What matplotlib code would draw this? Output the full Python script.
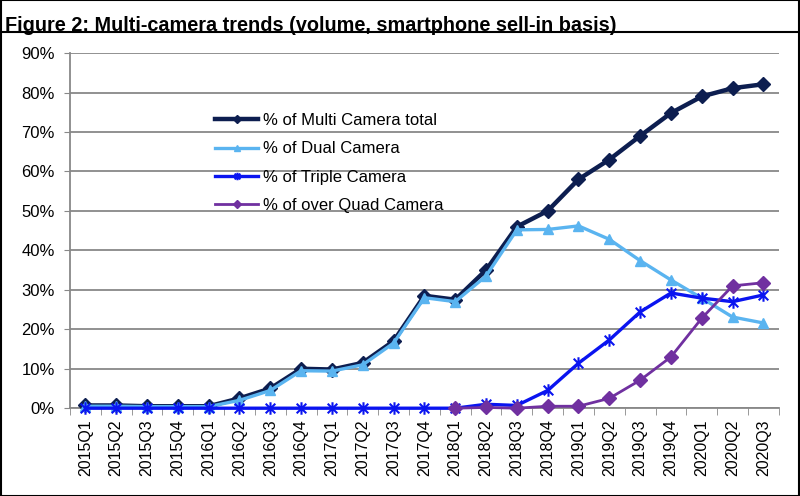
import numpy as np
import matplotlib
matplotlib.use("Agg")
import matplotlib.pyplot as plt
from matplotlib.path import Path
from matplotlib.patches import Rectangle
from matplotlib.lines import Line2D

plt.rcParams['font.family'] = ['Liberation Sans', 'DejaVu Sans']

quarters = ["2015Q1", "2015Q2", "2015Q3", "2015Q4", "2016Q1", "2016Q2", "2016Q3",
            "2016Q4", "2017Q1", "2017Q2", "2017Q3", "2017Q4", "2018Q1", "2018Q2",
            "2018Q3", "2018Q4", "2019Q1", "2019Q2", "2019Q3", "2019Q4", "2020Q1",
            "2020Q2", "2020Q3"]

multi = [0.7, 0.7, 0.5, 0.5, 0.5, 2.5, 5.0, 10.0, 9.8, 11.5, 17.0, 28.5, 27.5,
         35.0, 46.0, 50.0, 58.0, 63.0, 69.0, 74.8, 79.0, 81.1, 82.1]
dual = [0.5, 0.5, 0.4, 0.4, 0.4, 2.0, 4.5, 9.5, 9.4, 11.0, 16.5, 28.0, 27.0,
        33.5, 45.2, 45.3, 46.2, 42.8, 37.4, 32.5, 27.9, 23.1, 21.6]
triple = [0, 0, 0, 0, 0, 0, 0, 0, 0, 0, 0, 0, 0,
          1.0, 0.7, 4.5, 11.4, 17.3, 24.4, 29.2, 27.9, 27.0, 28.7]
quad = [np.nan] * 12 + [0, 0.2, 0, 0.5, 0.5, 2.5, 7.1, 13.0, 22.8, 31.0, 31.8]

labels = ["% of Multi Camera total", "% of Dual Camera",
          "% of Triple Camera", "% of over Quad Camera"]

# excel style star marker: x with a vertical bar
star = Path([(-1, -1), (1, 1), (-1, 1), (1, -1), (0, -1.3), (0, 1.3)],
            [Path.MOVETO, Path.LINETO, Path.MOVETO, Path.LINETO, Path.MOVETO, Path.LINETO])

fig = plt.figure(figsize=(8, 4.96), dpi=100)
ax = fig.add_axes([0.0875, 0.177, 0.886, 0.716])

x = np.arange(len(quarters))
kw = dict(clip_on=False, zorder=3)
ax.plot(x, multi, color="#0D1E50", lw=3.2, marker="D", ms=7, label=labels[0], **kw)
ax.plot(x, dual, color="#5AB4F0", lw=2.4, marker="^", ms=7, label=labels[1], **kw)
ax.plot(x, triple, color="#0A14F0", lw=2.4, marker=star, ms=9, mew=1.5, label=labels[2], **kw)
ax.plot(x, quad, color="#7030A0", lw=2.0, marker="D", ms=7, label=labels[3], **kw)

ax.set_xlim(-0.5, len(quarters) - 0.5)
ax.set_ylim(0, 90)
ax.set_yticks(np.arange(0, 91, 10))
ax.set_yticklabels([f"{v}%" for v in range(0, 91, 10)])
ax.set_xticks(x)
ax.set_xticklabels(quarters, rotation=90)
ax.set_xticks(np.arange(-0.5, len(quarters), 1), minor=True)
ax.tick_params(axis="x", which="major", length=0, pad=8, labelsize=11.5)
ax.tick_params(axis="x", which="minor", length=5, color="#888888", direction="out")
ax.tick_params(axis="y", length=4, color="#888888", labelsize=12, pad=7)

ax.grid(axis="y", color="#888888", lw=1.3)
ax.set_axisbelow(True)
for s in ["top", "right"]:
    ax.spines[s].set_visible(False)
for s in ["left", "bottom"]:
    ax.spines[s].set_color("#888888")
    ax.spines[s].set_linewidth(1.3)

ax.legend(loc="upper left", bbox_to_anchor=(0.195, 0.85), frameon=False,
          fontsize=12, handlelength=2.6, handletextpad=0.3, labelspacing=0.8,
          markerscale=0.6, borderaxespad=0)

fig.text(0.006, 0.968, "Figure 2: Multi-camera trends (volume, smartphone sell-in basis)",
         fontsize=14.3, fontweight="bold", va="top",
         family=["Liberation Sans Narrow", "Liberation Sans", "DejaVu Sans"])
fig.add_artist(Line2D([0, 1], [1 - 32 / 496, 1 - 32 / 496], transform=fig.transFigure,
                      color="black", lw=1.5))
fig.add_artist(Rectangle((0.001, 0.001), 0.998, 0.998, transform=fig.transFigure,
                         fill=False, edgecolor="black", lw=1.5))

fig.savefig("out.png", dpi=100)
